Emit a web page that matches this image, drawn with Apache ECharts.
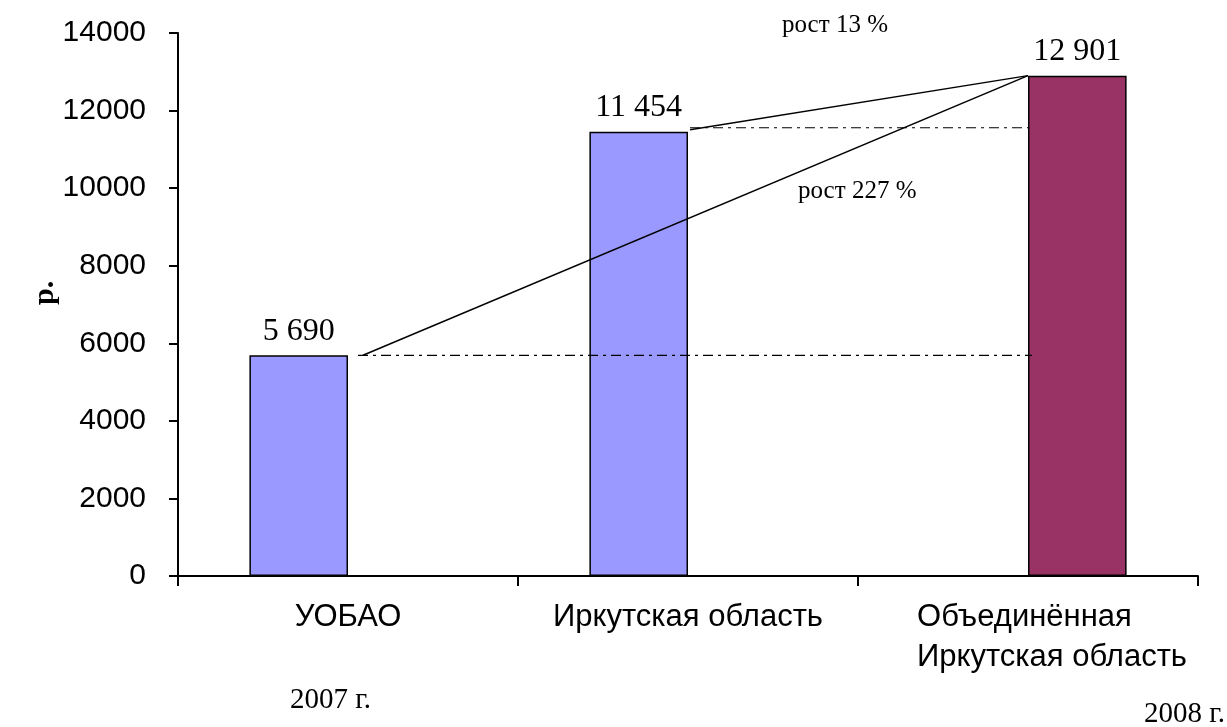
<!DOCTYPE html>
<html lang="ru">
<head>
    <meta charset="UTF-8">
    <title>рост</title>
    <script src="https://cdn.jsdelivr.net/npm/echarts@6/dist/echarts.min.js"></script>
    <style>
        html, body { margin: 0; padding: 0; background: #fff; }
        #chart { width: 1227px; height: 727px; }
    </style>
</head>
<body>
<div id="chart"></div>
<script type="application/javascript">
    // data
    var categories = ['УОБАО', 'Иркутская область', 'Объединённая\nИркутская область'];
    var values2007 = [5690, 11454, null];
    var values2008 = [null, null, 12901];
    var yTicks = [0, 2000, 4000, 6000, 8000, 10000, 12000, 14000];
    var growthNotes = ['рост 13 %', 'рост 227 %'];
    var yearNotes = ['2007 г.', '2008 г.'];

    function fmt(v) {
        return String(v).replace(/\B(?=(\d{3})+(?!\d))/g, ' ');
    }

    var serif = 'Liberation Serif';
    var sans = 'Liberation Sans';

    var chart = echarts.init(document.getElementById('chart'));
    var barLabel = {
        show: true,
        position: 'top',
        distance: 8,
        fontFamily: serif,
        fontSize: 32,
        color: '#000',
        formatter: function (p) { return fmt(p.value); }
    };
    var option = {
        animation: false,
        backgroundColor: '#fff',
        grid: {left: 178, right: 29, top: 33, bottom: 151},
        xAxis: {
            type: 'category',
            data: categories,
            axisLine: {lineStyle: {color: '#000', width: 2}},
            axisTick: {show: true, length: 10, lineStyle: {color: '#000', width: 2}},
            axisLabel: {
                color: '#000', fontFamily: sans, fontSize: 31, margin: 21,
                lineHeight: 40, interval: 0,
                formatter: function (v) {
                    var parts = v.split('\n');
                    if (parts.length === 1) return '{l|' + v + '}';
                    return parts.map(function (s) { return '{m|' + s + '}'; }).join('\n');
                },
                rich: {
                    l: {fontFamily: sans, fontSize: 31, lineHeight: 40, color: '#000'},
                    m: {align: 'left', fontFamily: sans, fontSize: 31, lineHeight: 40, color: '#000', padding: [0, 0, 0, 48]}
                }
            }
        },
        yAxis: {
            type: 'value',
            min: yTicks[0],
            max: yTicks[yTicks.length - 1],
            interval: 2000,
            splitLine: {show: false},
            axisLine: {show: true, lineStyle: {color: '#000', width: 2}},
            axisTick: {show: true, length: 9, lineStyle: {color: '#000', width: 2}},
            axisLabel: {
                color: '#000', fontFamily: sans, fontSize: 30, margin: 32,
                formatter: function (v) { return String(v); }
            }
        },
        series: [{
            type: 'bar',
            data: values2007,
            barWidth: '29%',
            barGap: '0%',
            itemStyle: {color: '#9999FF', borderColor: '#000', borderWidth: 1.5},
            label: barLabel
        }, {
            type: 'bar',
            data: values2008,
            barWidth: '29%',
            itemStyle: {color: '#993366', borderColor: '#000', borderWidth: 1.5},
            label: barLabel
        }]
    };
    chart.setOption(option);

    // connecting lines, positions taken from the axes
    function px(cat, val) {
        return chart.convertToPixel({gridIndex: 0}, [cat, val]);
    }
    var a = px(0, values2007[0]);
    var b = px(1, values2007[1]);
    var c = px(2, values2008[2]);
    var solid = {stroke: '#000', lineWidth: 1.5};
    var dashDot = {stroke: '#000', lineWidth: 1.2, lineDash: [10, 5, 3, 5]};

    chart.setOption({
        graphic: [
            {type: 'line', shape: {x1: a[0] + 10, y1: a[1], x2: c[0] + 4, y2: a[1]}, style: dashDot, z: 10},
            {type: 'line', shape: {x1: b[0] + 2, y1: b[1] - 4, x2: c[0], y2: b[1] - 4}, style: dashDot, z: 10},
            {type: 'line', shape: {x1: a[0] + 15, y1: a[1], x2: c[0], y2: c[1]}, style: solid, z: 10},
            {type: 'line', shape: {x1: b[0] + 2, y1: b[1] - 2, x2: c[0], y2: c[1]}, style: solid, z: 10},
            {type: 'text', left: 782, top: 13, style: {text: growthNotes[0], font: '25px "Liberation Serif"', fill: '#000'}},
            {type: 'text', left: 798, top: 179, style: {text: growthNotes[1], font: '25px "Liberation Serif"', fill: '#000'}},
            {type: 'text', left: 290, top: 686, style: {text: yearNotes[0], font: '29px "Liberation Serif"', fill: '#000'}},
            {type: 'text', right: 2, top: 700, style: {text: yearNotes[1], font: '29px "Liberation Serif"', fill: '#000'}},
            {
                type: 'text', x: 30, y: 305, rotation: Math.PI / 2,
                style: {text: 'р.', font: 'bold 30px "Liberation Serif"', fill: '#000'}
            }
        ]
    });
</script>
</body>
</html>
